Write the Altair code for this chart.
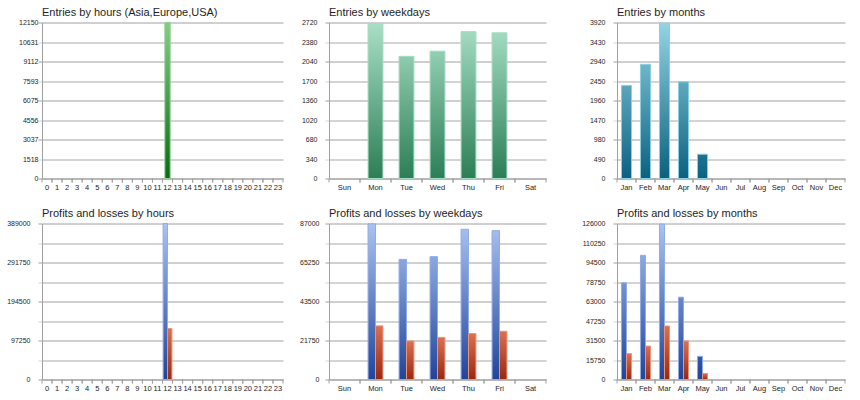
import altair as alt
import pandas as pd

FONT = "Liberation Sans"

# ---- categories -------------------------------------------------------------
HOURS = ["0", "1", "2", "3", "4", "5", "6", "7", "8", "9", "10", "11",
         "12", "13", "14", "15", "16", "17", "18", "19", "20", "21", "22", "23"]
DAYS = ["Sun", "Mon", "Tue", "Wed", "Thu", "Fri", "Sat"]
MONTHS = ["Jan", "Feb", "Mar", "Apr", "May", "Jun",
          "Jul", "Aug", "Sep", "Oct", "Nov", "Dec"]

# ---- entries ---------------------------------------------------------------
entries_by_hour = [0, 0, 0, 0, 0, 0, 0, 0, 0, 0, 0, 0,
                   12150, 0, 0, 0, 0, 0, 0, 0, 0, 0, 0, 0]
entries_by_day = [0, 2700, 2130, 2220, 2560, 2540, 0]
entries_by_month = [2340, 2870, 3900, 2430, 610, 0, 0, 0, 0, 0, 0, 0]

# ---- profits / losses -------------------------------------------------------
profit_by_hour = [0, 0, 0, 0, 0, 0, 0, 0, 0, 0, 0, 0,
                  389000, 0, 0, 0, 0, 0, 0, 0, 0, 0, 0, 0]
loss_by_hour = [0, 0, 0, 0, 0, 0, 0, 0, 0, 0, 0, 0,
                127000, 0, 0, 0, 0, 0, 0, 0, 0, 0, 0, 0]
profit_by_day = [0, 86800, 67000, 68500, 83800, 83000, 0]
loss_by_day = [0, 29900, 21500, 23500, 25600, 26900, 0]
profit_by_month = [78100, 100300, 125500, 66500, 18700, 0, 0, 0, 0, 0, 0, 0]
loss_by_month = [20900, 27000, 43200, 31100, 4900, 0, 0, 0, 0, 0, 0, 0]

# axis maxima
Y_MAX = {"hours": 12150, "days": 2720, "months": 3920,
         "pl_hours": 389000, "pl_days": 87000, "pl_months": 126000}

# ---- palette: (bottom colour, top colour, outline) ---------------------------
GREEN = ("#0b6a14", "#86cc86", "#8fd08f")
MINT = ("#2c7e56", "#a9e0c7", "#a2dcc2")
TEAL = ("#0a6180", "#94d5e5", "#8ccfe0")
BLUE = ("#21449a", "#aac3f2", "#90abe6")
RED = ("#9a2810", "#dc7050", "#e8957a")

GRID_DARK = "#a0a0a0"
GRID_LIGHT = "#d4d4d4"
TEXT = "#1e1e1e"


def mix(c0, c1, t):
    a = [int(c0[i:i + 2], 16) for i in (1, 3, 5)]
    b = [int(c1[i:i + 2], 16) for i in (1, 3, 5)]
    return "#" + "".join(f"{round(x + (y - x) * t):02x}" for x, y in zip(a, b))


def gradient(pal, frac):
    top = mix(pal[0], pal[1], frac)
    return alt.Gradient(
        gradient="linear", x1=0, x2=0, y1=0, y2=1,
        stops=[alt.GradientStop(color=top, offset=0),
               alt.GradientStop(color=pal[0], offset=1)])


ODD = "round(datum.index * 8) % 2 == 1"


def panel(title, cats, series, ymax, width, height, y_extent, label_pad,
          every_other, group_frac):
    rows = []
    for name, vals, _, _ in series:
        for c, v in zip(cats, vals):
            rows.append({"cat": c, "series": name, "value": v})
    df = pd.DataFrame(rows)

    xscale = alt.Scale(domain=cats, paddingInner=0, paddingOuter=0)
    xaxis = alt.Axis(title=None, ticks=False, grid=False, labelAngle=0,
                     labelFont=FONT, labelFontSize=7.5, labelColor=TEXT,
                     labelPadding=5, domainColor=GRID_DARK,
                     minExtent=14, maxExtent=14, labelFlush=False,
                     labelOverlap=False)
    tick_vals = [ymax * k / 8 for k in range(9)]
    if every_other:
        lbl = f"{ODD} ? '' : floor(datum.value)"
    else:
        lbl = "floor(datum.value)"
    yaxis = alt.Axis(
        title=None, values=tick_vals, labelExpr=lbl,
        labelFont=FONT, labelFontSize=7, labelColor=TEXT,
        labelPadding=label_pad, tickSize=4,
        tickColor={"condition": {"test": ODD, "value": GRID_LIGHT}, "value": GRID_DARK},
        grid=True,
        gridColor={"condition": {"test": ODD, "value": GRID_LIGHT}, "value": GRID_DARK},
        gridWidth={"condition": {"test": ODD, "value": 2}, "value": 1},
        domainColor=GRID_DARK, minExtent=y_extent, maxExtent=y_extent)
    yscale = alt.Scale(domain=[0, ymax], nice=False, zero=True)

    x = alt.X("cat:N", scale=xscale, axis=xaxis, sort=cats)
    y = alt.Y("value:Q", scale=yscale, axis=yaxis)

    n = len(series)
    step = width / len(cats)
    bar_frac = group_frac / n

    layers = []
    for i, (name, vals, pal, relative) in enumerate(series):
        # shift of each bar from the centre of its category slot
        shift = (i - (n - 1) / 2) * bar_frac * step
        for c, v in zip(cats, vals):
            if v <= 0:
                continue
            frac = v / ymax if relative else 1.0
            layers.append(
                alt.Chart(df)
                .transform_filter((alt.datum.cat == c) & (alt.datum.series == name))
                .mark_bar(color=gradient(pal, frac), stroke=pal[2], strokeWidth=1,
                          width=alt.RelativeBandSize(bar_frac), xOffset=shift)
                .encode(x=x, y=y))

    # category divider ticks under the x axis
    cat_df = pd.DataFrame({"cat": cats})
    for bp in (0, 1):
        layers.append(
            alt.Chart(cat_df).mark_rule(color=GRID_DARK, strokeWidth=1).encode(
                x=alt.X("cat:N", scale=xscale, axis=xaxis, sort=cats, bandPosition=bp),
                y=alt.value(height), y2=alt.value(height + 4)))

    return alt.layer(*layers).properties(
        width=width, height=height,
        title=alt.TitleParams(title, anchor="start", frame="group", font=FONT,
                              fontSize=11, fontWeight="normal", color=TEXT,
                              offset=-8, baseline="alphabetic"))


W1, W2, W3 = 241, 217, 228
H = 156

top = alt.hconcat(
    panel("Entries by hours (Asia,Europe,USA)", HOURS,
          [("Entries", entries_by_hour, GREEN, True)],
          Y_MAX["hours"], W1, H, 37, 0, False, 0.53),
    panel("Entries by weekdays", DAYS,
          [("Entries", entries_by_day, MINT, True)],
          Y_MAX["days"], W2, H, 37, 8, False, 0.48),
    panel("Entries by months", MONTHS,
          [("Entries", entries_by_month, TEAL, True)],
          Y_MAX["months"], W3, H, 62, 8, False, 0.53),
    spacing=8)

bottom = alt.hconcat(
    panel("Profits and losses by hours", HOURS,
          [("Profit", profit_by_hour, BLUE, True), ("Loss", loss_by_hour, RED, False)],
          Y_MAX["pl_hours"], W1, H, 37, 8, True, 0.88),
    panel("Profits and losses by weekdays", DAYS,
          [("Profit", profit_by_day, BLUE, True), ("Loss", loss_by_day, RED, False)],
          Y_MAX["pl_days"], W2, H, 37, 6, True, 0.48),
    panel("Profits and losses by months", MONTHS,
          [("Profit", profit_by_month, BLUE, True), ("Loss", loss_by_month, RED, False)],
          Y_MAX["pl_months"], W3, H, 62, 8, False, 0.53),
    spacing=8)

chart = alt.vconcat(top, bottom, spacing=15).properties(
    padding={"left": 5, "top": 6.5, "right": 5, "bottom": 0},
    background="white",
).configure_view(stroke=None).configure_concat(spacing=8)

chart.save("out.html", embed_options={"renderer": "svg", "actions": False})
